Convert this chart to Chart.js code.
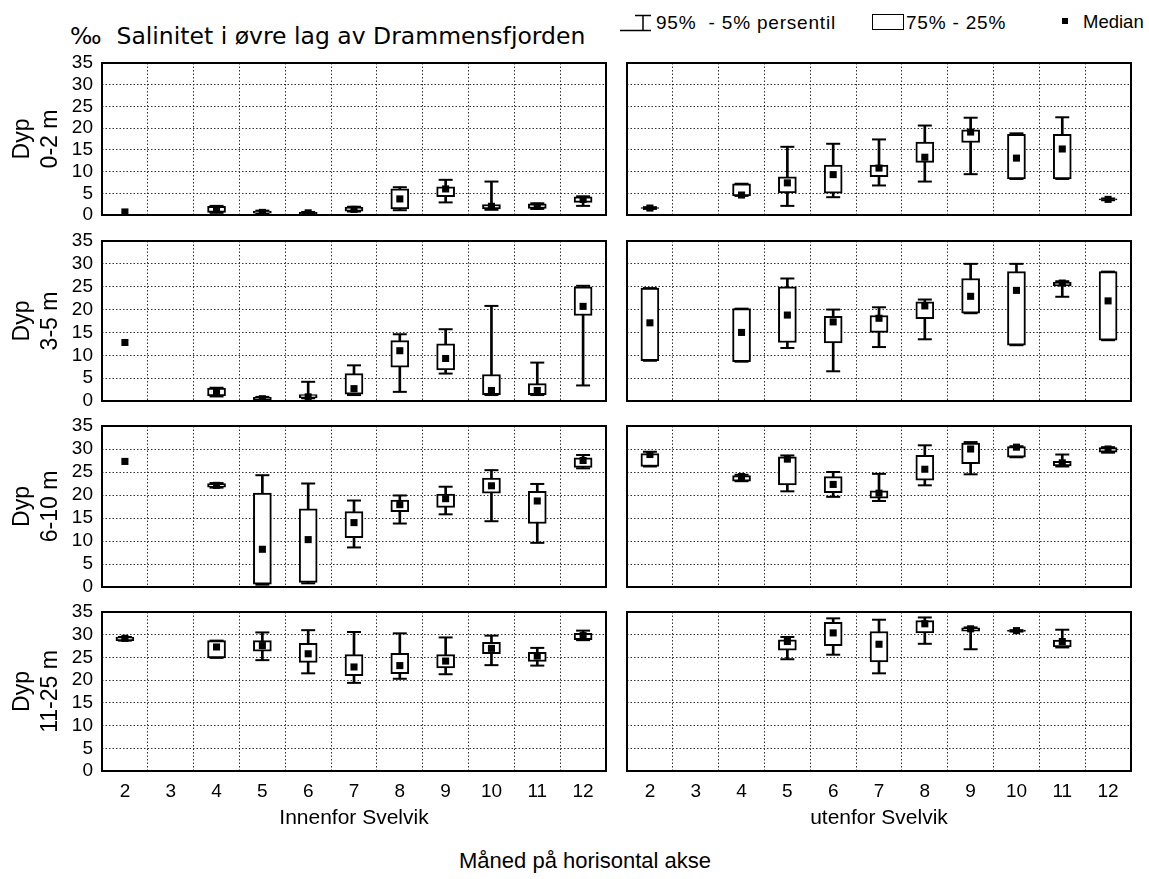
<!DOCTYPE html>
<html><head><meta charset="utf-8">
<script src="https://cdn.jsdelivr.net/npm/chart.js@4.4.0/dist/chart.umd.min.js"></script>
<style>
html,body{margin:0;padding:0;background:#fff;}
body{width:1149px;height:879px;position:relative;overflow:hidden;font-family:'Liberation Sans',Arial,Helvetica,sans-serif;color:#000;}
.pane{position:absolute;}
.txt{position:absolute;white-space:nowrap;line-height:1;}
.leg{font-size:19px;letter-spacing:0.8px;top:13px;}
</style></head><body>

<div class="txt" style="left:70px;top:25px;font-family:'DejaVu Sans',sans-serif;font-size:23.5px;">‰&nbsp; Salinitet i øvre lag av Drammensfjorden</div>
<svg style="position:absolute;left:619px;top:14px" width="36" height="18"><path d="M16 1.5 H32 M24 1.5 V16.5 M1 16.5 H32" stroke="#000" stroke-width="1.5" fill="none"/></svg>
<div class="txt leg" style="left:656px;">95%&nbsp; - 5% persentil</div>
<div style="position:absolute;left:872px;top:14px;width:30px;height:14px;border:1.5px solid #000;"></div>
<div class="txt leg" style="left:906px;">75% - 25%</div>
<div style="position:absolute;left:1062px;top:18px;width:6px;height:6px;background:#000;"></div>
<div class="txt leg" style="left:1083px;letter-spacing:0;font-size:18.5px;">Median</div>
<div class="txt" style="left:0;width:1170px;text-align:center;top:850px;font-size:22px;">Måned på horisontal akse</div>

<script>
// ---------- data ----------
const months = ['2','3','4','5','6','7','8','9','10','11','12'];
const depthLabels = ['0-2 m','3-5 m','6-10 m','11-25 m'];
const sideLabels = ['Innenfor Svelvik','utenfor Svelvik'];

// Innenfor Svelvik, 0-2 m
const inn02P95 = [null, null, 2.1, 1.0, 0.7, 1.9, 6.4, 8.1, 7.7, 2.7, 4.3];
const inn02Q75 = [null, null, 2.0, 0.9, 0.6, 1.8, 6.0, 6.5, 2.4, 2.6, 4.2];
const inn02Med = [0.7, null, 1.3, 0.6, 0.5, 1.3, 3.7, 6.0, 2.0, 2.0, 3.6];
const inn02Q25 = [null, null, 0.6, 0.4, 0.3, 0.9, 1.4, 4.2, 1.4, 1.5, 2.9];
const inn02P5  = [null, null, 0.5, 0.3, 0.3, 0.8, 1.1, 2.9, 1.2, 1.4, 2.1];
// utenfor Svelvik, 0-2 m
const ut02P95 = [1.8, null, 7.2, 15.7, 16.4, 17.4, 20.6, 22.4, 18.8, 22.5, 3.8];
const ut02Q75 = [1.7, null, 7.2, 8.8, 11.5, 11.5, 16.8, 19.6, 18.6, 18.6, 3.7];
const ut02Med = [1.6, null, 4.6, 7.4, 9.3, 10.8, 13.3, 19.1, 13.1, 15.2, 3.6];
const ut02Q25 = [1.5, null, 4.4, 5.1, 5.0, 8.8, 12.1, 16.7, 8.3, 8.3, 3.5];
const ut02P5  = [1.4, null, 4.4, 2.1, 4.1, 6.8, 7.7, 9.4, 8.3, 8.3, 3.4];
// Innenfor Svelvik, 3-5 m
const inn35P95 = [null, null, 2.9, 0.9, 4.2, 7.8, 14.6, 15.7, 20.8, 8.4, 25.2];
const inn35Q75 = [null, null, 2.8, 0.8, 1.4, 6.0, 13.2, 12.5, 5.8, 3.8, 25.0];
const inn35Med = [12.8, null, 1.9, 0.5, 0.9, 2.7, 11.0, 9.3, 2.3, 2.3, 20.7];
const inn35Q25 = [null, null, 1.1, 0.3, 0.7, 1.5, 7.4, 6.8, 1.4, 1.4, 18.7];
const inn35P5  = [null, null, 1.0, 0.3, 0.6, 1.3, 2.0, 6.0, 1.3, 1.3, 3.4];
// utenfor Svelvik, 3-5 m
const ut35P95 = [24.7, null, 20.2, 26.8, 20.0, 20.5, 22.2, 30.0, 30.0, 26.2, 28.3];
const ut35Q75 = [24.7, null, 20.2, 25.0, 18.5, 18.7, 21.7, 26.8, 28.3, 26.0, 28.3];
const ut35Med = [17.1, null, 15.0, 18.8, 17.3, 18.1, 20.8, 22.9, 24.2, 25.8, 21.9];
const ut35Q25 = [8.8, null, 8.6, 12.8, 12.7, 15.0, 18.0, 19.2, 12.2, 25.2, 13.3];
const ut35P5  = [8.8, null, 8.6, 11.6, 6.5, 11.8, 13.5, 19.2, 12.2, 22.8, 13.3];
// Innenfor Svelvik, 6-10 m
const inn610P95 = [null, null, 22.6, 24.3, 22.5, 18.8, 19.9, 21.8, 25.4, 22.4, 28.7];
const inn610Q75 = [null, null, 22.5, 20.4, 17.0, 16.4, 18.9, 20.2, 23.7, 20.8, 28.1];
const inn610Med = [27.3, null, 22.1, 8.2, 10.3, 14.0, 17.9, 19.2, 22.0, 18.7, 27.5];
const inn610Q25 = [null, null, 21.7, 0.6, 1.0, 10.7, 16.4, 17.3, 20.4, 13.8, 26.0];
const inn610P5  = [null, null, 21.6, 0.5, 0.8, 8.6, 13.8, 15.8, 14.3, 9.6, 25.8];
// utenfor Svelvik, 6-10 m
const ut610P95 = [29.4, null, 24.4, 28.6, 25.0, 24.6, 30.8, 31.5, 30.6, 28.8, 30.4];
const ut610Q75 = [29.0, null, 24.2, 28.3, 24.0, 20.9, 28.6, 31.3, 30.5, 27.3, 30.3];
const ut610Med = [28.8, null, 24.0, 27.8, 22.3, 20.4, 25.6, 30.0, 30.4, 27.0, 30.0];
const ut610Q25 = [26.2, null, 23.0, 22.2, 20.5, 19.3, 23.2, 26.8, 28.2, 26.3, 29.3];
const ut610P5  = [26.2, null, 23.0, 20.8, 19.6, 18.7, 22.1, 24.5, 28.2, 26.2, 29.2];
// Innenfor Svelvik, 11-25 m
const inn1125P95 = [29.5, null, 28.7, 30.5, 31.0, 30.6, 30.3, 29.4, 29.8, 27.1, 30.9];
const inn1125Q75 = [29.5, null, 28.7, 28.7, 28.1, 25.6, 25.9, 25.6, 28.3, 26.1, 30.3];
const inn1125Med = [29.2, null, 27.3, 27.6, 25.8, 22.9, 23.2, 24.2, 27.0, 25.3, 29.8];
const inn1125Q25 = [28.7, null, 24.9, 26.4, 23.9, 21.0, 21.4, 22.7, 25.8, 24.1, 28.9];
const inn1125P5  = [28.7, null, 24.9, 24.4, 21.5, 19.4, 20.3, 21.3, 23.3, 23.2, 28.8];
// utenfor Svelvik, 11-25 m
const ut1125P95 = [null, null, null, 29.5, 33.6, 33.3, 33.8, 31.6, 31.0, 31.1, null];
const ut1125Q75 = [null, null, null, 28.9, 32.7, 30.7, 33.1, 31.5, 31.0, 28.8, null];
const ut1125Med = [null, null, null, 28.5, 30.4, 27.9, 32.4, 31.3, 30.9, 28.5, null];
const ut1125Q25 = [null, null, null, 26.6, 27.6, 24.0, 30.4, 30.8, 30.7, 27.3, null];
const ut1125P5  = [null, null, null, 24.6, 25.6, 21.5, 28.0, 26.8, 30.7, 27.2, null];

// ---------- layout ----------
const colLeft = [102, 627];
const colRight = [606, 1131];
const rowTop = [63, 241, 426, 612];
const rowBottom = [215, 401, 587, 771];

Chart.defaults.font.family = "'Liberation Sans', Arial, Helvetica, sans-serif";
Chart.defaults.color = '#000';
Chart.defaults.animation = false;

const framePlugin = {
  id: 'frame',
  afterDraw(chart) {
    const {ctx, chartArea: a} = chart;
    ctx.save();
    ctx.strokeStyle = '#000';
    ctx.lineWidth = 2;
    ctx.setLineDash([]);
    ctx.strokeRect(a.left, a.top, a.right - a.left, a.bottom - a.top);
    ctx.restore();
  }
};

function pairs(lo, hi) {
  return lo.map((v, i) => (v == null || hi[i] == null) ? null : [v, hi[i]]);
}

function buildPanel(row, col, p5, q25, med, q75, p95) {
  const showY = col === 0;
  const showX = row === 3;
  const top = rowTop[row], bottom = rowBottom[row];
  const PAD_T = 12;
  const padL = showY ? 0 : 3;
  const padR = 3;
  const xH = showX ? 64 : 0;
  const padB = showX ? 0 : 12;
  const left = showY ? 0 : colLeft[col] - padL;
  const width = colRight[col] - left + padR;
  const height = (bottom - top) + PAD_T + xH + padB;
  const div = document.createElement('div');
  div.className = 'pane';
  div.style.left = left + 'px';
  div.style.top = (top - PAD_T) + 'px';
  div.style.width = width + 'px';
  div.style.height = height + 'px';
  const cv = document.createElement('canvas');
  div.appendChild(cv);
  document.body.appendChild(div);

  new Chart(cv, {
    type: 'bar',
    data: {
      labels: months,
      datasets: [
        { type: 'bar', label: '95% - 5% persentil', data: pairs(p5, p95), backgroundColor: '#000',
          borderWidth: 0, barThickness: 2, grouped: false, order: 3 },
        { type: 'bar', label: '75% - 25%', data: pairs(q25, q75), backgroundColor: '#fff',
          borderColor: '#000', borderWidth: 2, borderSkipped: false, barThickness: 18, grouped: false, order: 2 },
        { type: 'line', label: '95%', data: p95, showLine: false, pointStyle: 'line', pointRadius: 7,
          pointBorderWidth: 2, pointBorderColor: '#000', borderColor: '#000', order: 1 },
        { type: 'line', label: '5%', data: p5, showLine: false, pointStyle: 'line', pointRadius: 7,
          pointBorderWidth: 2, pointBorderColor: '#000', borderColor: '#000', order: 1 },
        { type: 'line', label: 'Median', data: med, showLine: false, pointStyle: 'rect', pointRadius: 5,
          pointBackgroundColor: '#000', pointBorderWidth: 0, order: 0 }
      ]
    },
    options: {
      responsive: true,
      maintainAspectRatio: false,
      animation: false,
      events: [],
      layout: { autoPadding: false, padding: { left: padL, right: padR, top: PAD_T, bottom: padB } },
      plugins: { legend: { display: false }, tooltip: { enabled: false } },
      scales: {
        x: {
          type: 'category', offset: true,
          grid: { offset: true, color: '#333', lineWidth: 1, drawTicks: false },
          border: { display: false, dash: [1.5, 2] },
          ticks: { display: showX, padding: 9, font: { size: 19 }, color: '#000', autoSkip: false, maxRotation: 0 },
          title: { display: showX, text: sideLabels[col], font: { size: 21 }, color: '#000', padding: { top: 0, bottom: 4 } },
          afterFit: s => { s.height = xH; s.paddingLeft = 0; s.paddingRight = 0; }
        },
        y: {
          min: 0, max: 35,
          grid: { color: '#333', lineWidth: 1, drawTicks: false },
          border: { display: false, dash: [1.5, 2] },
          ticks: { display: showY, stepSize: 5, autoSkip: false, padding: 9, font: { size: 19 }, color: '#000' },
          title: { display: showY, text: ['Dyp', depthLabels[row]], font: { size: 23 }, color: '#000', padding: { top: 9, bottom: 0 } },
          afterFit: s => { s.width = showY ? 102 : 0; s.paddingTop = 0; s.paddingBottom = 0; }
        }
      }
    },
    plugins: [framePlugin]
  });
}

buildPanel(0, 0, inn02P5, inn02Q25, inn02Med, inn02Q75, inn02P95);
buildPanel(0, 1, ut02P5, ut02Q25, ut02Med, ut02Q75, ut02P95);
buildPanel(1, 0, inn35P5, inn35Q25, inn35Med, inn35Q75, inn35P95);
buildPanel(1, 1, ut35P5, ut35Q25, ut35Med, ut35Q75, ut35P95);
buildPanel(2, 0, inn610P5, inn610Q25, inn610Med, inn610Q75, inn610P95);
buildPanel(2, 1, ut610P5, ut610Q25, ut610Med, ut610Q75, ut610P95);
buildPanel(3, 0, inn1125P5, inn1125Q25, inn1125Med, inn1125Q75, inn1125P95);
buildPanel(3, 1, ut1125P5, ut1125Q25, ut1125Med, ut1125Q75, ut1125P95);
</script>
</body></html>
